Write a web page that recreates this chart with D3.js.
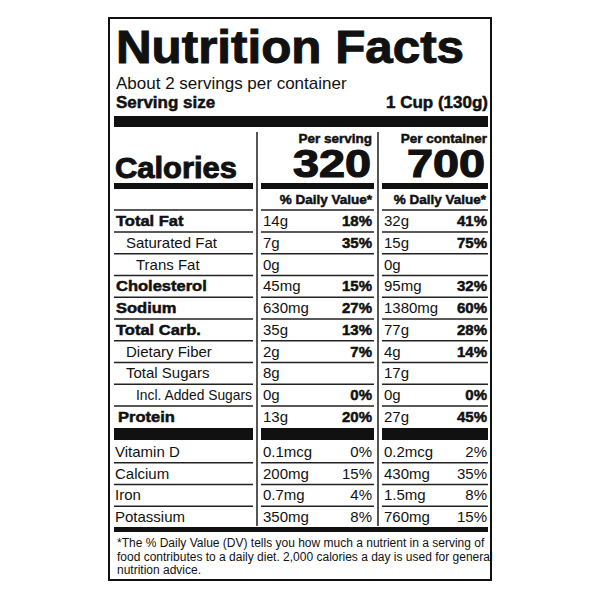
<!DOCTYPE html>
<html><head><meta charset="utf-8">
<script src="https://cdn.jsdelivr.net/npm/d3@7"></script>
<style>body{margin:0;background:#fff}text{font-family:"Liberation Sans",Arial,sans-serif;fill:#111}</style>
</head><body><svg id="c" width="600" height="600"></svg>
<script>
const nutrients = ["Total Fat","Saturated Fat","Trans Fat","Cholesterol","Sodium","Total Carb.","Dietary Fiber","Total Sugars","Incl. Added Sugars","Protein"];
const indent = [0,1,2,0,0,0,1,1,2,0];
const servingAmt = ["14g","7g","0g","45mg","630mg","35g","2g","8g","0g","13g"];
const servingDV = ["18%","35%","","15%","27%","13%","7%","","0%","20%"];
const containerAmt = ["32g","15g","0g","95mg","1380mg","77g","4g","17g","0g","27g"];
const containerDV = ["41%","75%","","32%","60%","28%","14%","","0%","45%"];
const vitamins = ["Vitamin D","Calcium","Iron","Potassium"];
const vitServingAmt = ["0.1mcg","200mg","0.7mg","350mg"];
const vitServingDV = ["0%","15%","4%","8%"];
const vitContainerAmt = ["0.2mcg","430mg","1.5mg","760mg"];
const vitContainerDV = ["2%","35%","8%","15%"];
const calories = [320,700];

const svg=d3.select("#c");
const L=114,R=488;
const cols=[{x0:114,x1:253},{x0:261,x1:374},{x0:382,x1:488}];
svg.append("rect").attr("x",109).attr("y",18).attr("width",382).attr("height",562).attr("fill","none").attr("stroke","#111").attr("stroke-width",2);
const bold=(s)=>s.attr("font-weight","bold").attr("stroke","#111").attr("stroke-width",0.5);
const widen=(s,f)=>{const w=s.node().getComputedTextLength();s.attr("textLength",w*f).attr("lengthAdjust","spacingAndGlyphs");return s;};
bold(svg.append("text").attr("x",116).attr("y",63).attr("font-size",46).attr("textLength",348).attr("lengthAdjust","spacingAndGlyphs").text("Nutrition Facts")).attr("stroke-width",1);
svg.append("text").attr("x",116).attr("y",89).attr("font-size",17).text("About 2 servings per container");
bold(svg.append("text").attr("x",116).attr("y",108).attr("font-size",17).text("Serving size"));
bold(svg.append("text").attr("x",R).attr("y",108).attr("font-size",17).attr("text-anchor","end").text("1 Cup (130g)"));
svg.append("rect").attr("x",L).attr("y",116).attr("width",R-L).attr("height",11).attr("fill","#111");
[257,378].forEach(x=>svg.append("line").attr("x1",x).attr("x2",x).attr("y1",132).attr("y2",526).attr("stroke","#555").attr("stroke-width",2));
bold(svg.append("text").attr("x",372).attr("y",143).attr("font-size",13.5).attr("text-anchor","end").text("Per serving"));
bold(svg.append("text").attr("x",487).attr("y",143).attr("font-size",13.5).attr("text-anchor","end").text("Per container"));
bold(svg.append("text").attr("x",115).attr("y",178).attr("font-size",30).attr("textLength",122).attr("lengthAdjust","spacingAndGlyphs").text("Calories")).attr("stroke-width",1);
[cols[1],cols[2]].forEach((c,i)=>bold(svg.append("text").attr("x",c.x1-3).attr("y",177).attr("font-size",38).attr("text-anchor","end").attr("textLength",78).attr("lengthAdjust","spacingAndGlyphs").text(calories[i])).attr("stroke-width",1.2));
cols.forEach(c=>svg.append("rect").attr("x",c.x0).attr("y",183).attr("width",c.x1-c.x0).attr("height",6).attr("fill","#111"));
[cols[1],cols[2]].forEach(c=>bold(svg.append("text").attr("x",c.x1-2).attr("y",204).attr("font-size",13.5).attr("text-anchor","end").text("% Daily Value*")));
const y=d3.scalePoint().domain(d3.range(nutrients.length)).range([221,417]);
const sep=(yy)=>cols.forEach(c=>svg.append("line").attr("x1",c.x0).attr("x2",c.x1).attr("y1",yy).attr("y2",yy).attr("stroke","#222").attr("stroke-width",1.5));
sep(210);
const step=y.step();
nutrients.forEach((n,i)=>{
  const yy=y(i)+5;
  const isBold=indent[i]===0;
  const t=svg.append("text").attr("x",116+indent[i]*10+(n==="Protein"?2:0)).attr("y",yy).attr("font-size",15).text(n);
  if(isBold){bold(t);widen(t,1.1);}
  if(indent[i]===2&&n.length>10) t.attr("textLength",116).attr("lengthAdjust","spacingAndGlyphs");
  svg.append("text").attr("x",263).attr("y",yy).attr("font-size",15).text(servingAmt[i]);
  bold(svg.append("text").attr("x",372).attr("y",yy).attr("font-size",15).attr("text-anchor","end").text(servingDV[i]));
  svg.append("text").attr("x",384).attr("y",yy).attr("font-size",15).text(containerAmt[i]);
  bold(svg.append("text").attr("x",487).attr("y",yy).attr("font-size",15).attr("text-anchor","end").text(containerDV[i]));
  if(i<nutrients.length-1) sep(y(i)+step/2);
});
cols.forEach(c=>svg.append("rect").attr("x",c.x0).attr("y",428).attr("width",c.x1-c.x0).attr("height",12).attr("fill","#111"));
const yv=d3.scalePoint().domain(d3.range(vitamins.length)).range([452,517]);
vitamins.forEach((n,i)=>{
  const yy=yv(i)+5;
  svg.append("text").attr("x",115).attr("y",yy).attr("font-size",15).text(n);
  svg.append("text").attr("x",263).attr("y",yy).attr("font-size",15).text(vitServingAmt[i]);
  svg.append("text").attr("x",372).attr("y",yy).attr("font-size",15).attr("text-anchor","end").text(vitServingDV[i]);
  svg.append("text").attr("x",384).attr("y",yy).attr("font-size",15).text(vitContainerAmt[i]);
  svg.append("text").attr("x",487).attr("y",yy).attr("font-size",15).attr("text-anchor","end").text(vitContainerDV[i]);
  if(i<vitamins.length-1) sep(yv(i)+yv.step()/2);
});
svg.append("rect").attr("x",L).attr("y",527).attr("width",R-L).attr("height",5).attr("fill","#111");
["*The % Daily Value (DV) tells you how much a nutrient in a serving of","food contributes to a daily diet. 2,000 calories a day is used for general","nutrition advice."].forEach((s,i)=>svg.append("text").attr("x",117).attr("y",547+i*13.5).attr("font-size",12).text(s));
</script></body></html>
